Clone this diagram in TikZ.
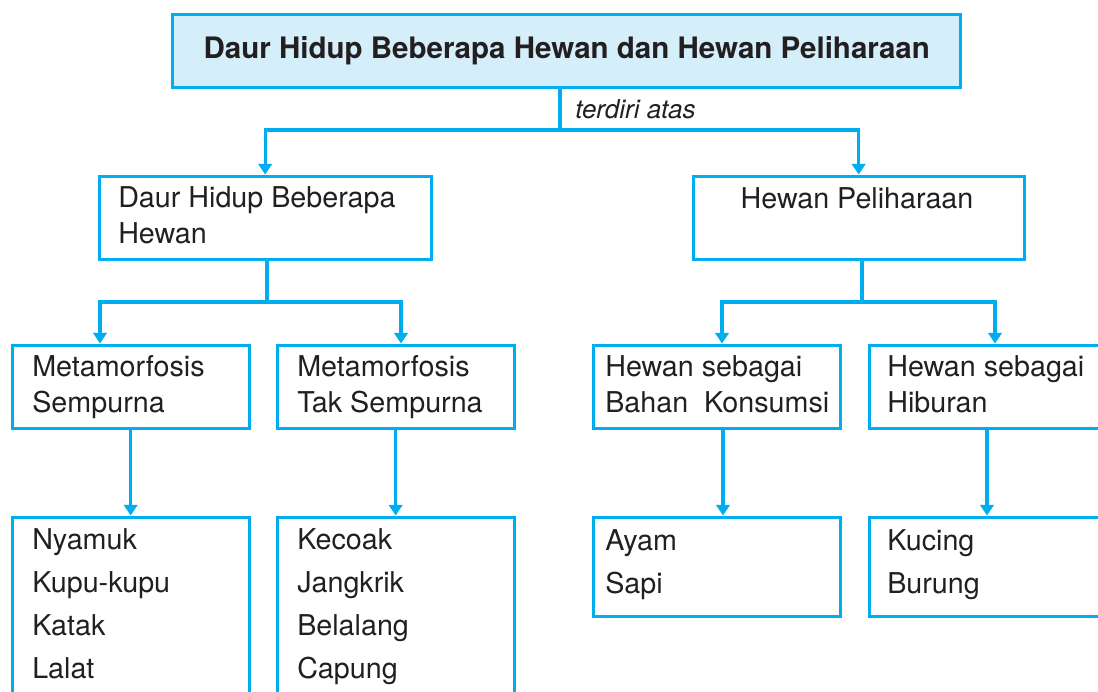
\documentclass[tikz,border=0pt]{standalone}
\usepackage{fontspec}
\setmainfont{TeX Gyre Heros}
\usepackage{xcolor}
\usetikzlibrary{arrows.meta}
\definecolor{biru}{HTML}{00AEEF}
\definecolor{birumuda}{HTML}{D4EEFA}
\definecolor{tinta}{HTML}{231F20}

\begin{document}
\begin{tikzpicture}[x=0.025cm, y=-0.025cm,
    kotak/.style={draw=biru, line width=2.3pt, anchor=north west, inner sep=0pt, minimum height=2.075cm},
    teks/.style={anchor=base west, inner sep=0pt, align=left, text=tinta, font=\fontsize{20.4}{24.9}\selectfont},
    daftar/.style={teks, font=\fontsize{20.4}{30.4}\selectfont},
    garis/.style={draw=biru, line width=2.2pt},
    panah/.style={garis, -{Triangle[width=9.5pt, length=7.5pt]}}]
    \useasboundingbox (0,0) rectangle (1098,691);

    % kotak
    \node[kotak, fill=birumuda, minimum width=19.7cm, minimum height=1.825cm, text=tinta,
          font=\fontsize{21}{25}\selectfont\bfseries] (judul) at (171,13)
          {Daur Hidup Beberapa Hewan dan Hewan Peliharaan};
    \node[kotak, minimum width=8.3cm] (daur) at (97.5,174.5) {};
    \node[kotak, minimum width=8.275cm] (peli) at (691.5,174.5) {};
    \node[kotak, minimum width=5.925cm] (sem) at (10.5,343.5) {};
    \node[kotak, minimum width=5.925cm] (tak) at (275.5,343.5) {};
    \node[kotak, minimum width=6.175cm] (kon) at (591.5,343.5) {};
    \node[kotak, minimum width=7.5cm] (hib) at (867.5,343.5) {};
    \node[kotak, minimum width=5.925cm, minimum height=5cm] (semlist) at (10.5,515.5) {};
    \node[kotak, minimum width=5.925cm, minimum height=5cm] (taklist) at (275.5,515.5) {};
    \node[kotak, minimum width=6.175cm, minimum height=2.475cm] (konlist) at (591.5,515.5) {};
    \node[kotak, minimum width=7.5cm, minimum height=2.475cm] (hiblist) at (867.5,515.5) {};

    % isi kotak (base = baris terakhir)
    \node[teks] (tdaur) at (118,243) {Daur Hidup Beberapa\\Hewan};
    \node[teks, anchor=base] (tpeli) at (857,208) {Hewan Peliharaan};
    \node[teks] (tsem) at (32,412) {Metamorfosis\\Sempurna};
    \node[teks] (ttak) at (297,412) {Metamorfosis\\Tak Sempurna};
    \node[teks] (tkon) at (605,412) {Hewan sebagai\\Bahan \ Konsumsi};
    \node[teks] (thib) at (887,412) {Hewan sebagai\\Hiburan};
    \node[daftar] (tsemlist) at (32,678) {Nyamuk\\Kupu-kupu\\Katak\\Lalat};
    \node[daftar] (ttaklist) at (297,678) {Kecoak\\Jangkrik\\Belalang\\Capung};
    \node[daftar] (tkonlist) at (605,593) {Ayam\\Sapi};
    \node[daftar] (thiblist) at (887,593) {Kucing\\Burung};

    % garis penghubung
    \coordinate (j0) at (560,130);
    \coordinate (j1) at (267,302);
    \coordinate (j2) at (862,302);
    \draw[garis] (judul.south -| j0) -- (j0);
    \node[teks, font=\fontsize{18.5}{22}\selectfont\itshape] (terdiri) at (575,118) {terdiri atas};
    \draw[panah] (j0) -| (daur.north);
    \draw[panah] (j0) -| (peli.north);
    \draw[garis] (daur.south -| j1) -- (j1);
    \draw[panah] (j1) -| (sem.north -| 100,0);
    \draw[panah] (j1) -| (tak.north -| 401,0);
    \draw[garis] (peli.south -| j2) -- (j2);
    \draw[panah] (j2) -| (kon.north -| 722,0);
    \draw[panah] (j2) -| (hib.north -| 995,0);
    \draw[panah] (sem.south) -- (semlist.north);
    \draw[panah] (tak.south) -- (taklist.north);
    \draw[panah] (kon.south -| 723,0) -- (konlist.north -| 723,0);
    \draw[panah] (hib.south -| 987,0) -- (hiblist.north -| 987,0);
\end{tikzpicture}
\end{document}
